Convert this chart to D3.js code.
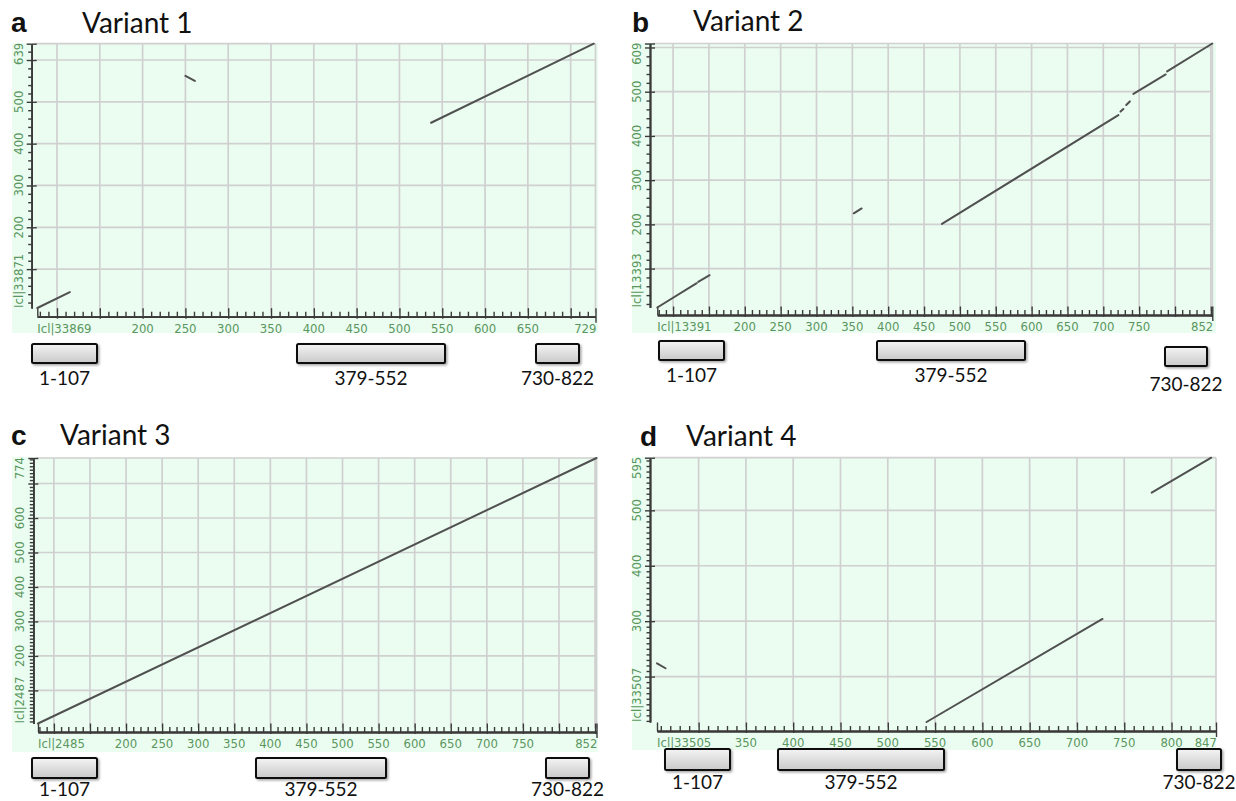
<!DOCTYPE html>
<html><head><meta charset="utf-8">
<script src="https://cdn.jsdelivr.net/npm/d3@7"></script>
<style>body{margin:0;background:#fff} svg{display:block}</style>
</head><body>
<svg id="c" width="1236" height="801"></svg>
<script>
// ---------------- data ----------------
const panelLetters = ["a", "b", "c", "d"];
const panelTitles = ["Variant 1", "Variant 2", "Variant 3", "Variant 4"];
const xSeqNames = ["Icl|33869", "Icl|13391", "Icl|2485", "Icl|33505"];
const ySeqNames = ["Icl|33871", "Icl|13393", "Icl|2487", "Icl|33507"];
const xMin = [77, 78, 78, 256];
const xMax = [729, 852, 852, 847];
const yMin = [7, 12, 4, 118];
const yMax = [639, 609, 774, 595];
const xTickLabels = [
  [200, 250, 300, 350, 400, 450, 500, 550, 600, 650],
  [200, 250, 300, 350, 400, 450, 500, 550, 600, 650, 700, 750],
  [200, 250, 300, 350, 400, 450, 500, 550, 600, 650, 700, 750],
  [350, 400, 450, 500, 550, 600, 650, 700, 750, 800]
];
const yTickLabels = [
  [200, 300, 400, 500],
  [200, 300, 400, 500],
  [200, 300, 400, 500, 600],
  [300, 400, 500]
];
const yMinorStep = [20, 20, 10, 10];
// alignment segments: [xStart, yStart, xEnd, yEnd]
const segmentsA = [[77, 7, 115, 45], [250, 562, 261, 550], [537, 450, 727, 639]];
const segmentsB = [[78, 12, 133, 67], [135, 70, 151, 85], [352, 225, 363, 236],
  [475, 201, 721, 447], [724, 455, 728, 461], [732, 470, 737, 478],
  [742, 495, 787, 539], [789, 546, 852, 609]];
const segmentsC = [[78, 4, 852, 774]];
const segmentsD = [[256, 224, 265, 215], [541, 118, 727, 304], [779, 532, 842, 595]];
const allSegments = [segmentsA, segmentsB, segmentsC, segmentsD];
// annotated regions
const regionStart = [1, 379, 730];
const regionEnd = [107, 552, 822];
const regionLabels = ["1-107", "379-552", "730-822"];

// ---------------- layout ----------------
const layout = [
  {bg: [12, 43, 598, 333], px: [37.3, 595.5], py: [308, 43.7], yAx: 31.7, xAx: 316.7,
   letter: [11, 32], title: [82, 33], boxR: [32, 97, 297, 445, 536, 579],
   boxY: [344, 344, 344], boxH: 19, labY: [385, 385, 385]},
  {bg: [632, 43, 1216, 333], px: [657.3, 1212.3], py: [307.5, 43.5], yAx: 650, xAx: 315,
   letter: [632, 32], title: [693, 31], boxR: [659, 724, 877, 1025, 1165, 1207],
   boxY: [341, 341, 347], boxH: 19, labY: [382, 382, 391]},
  {bg: [12, 457, 598, 752], px: [38, 596.5], py: [723.5, 458], yAx: 33.3, xAx: 732,
   letter: [11, 445], title: [60, 445], boxR: [32, 97, 256, 386, 546, 589],
   boxY: [758, 758, 758], boxH: 20, labY: [796, 796, 796]},
  {bg: [632, 457, 1216, 750], px: [657, 1216], py: [722, 457.7], yAx: 650, xAx: 731,
   letter: [640, 446], title: [686, 446], boxR: [665, 730, 778, 944, 1177, 1221],
   boxY: [749, 749, 749], boxH: 21, labY: [789, 789, 789]}
];

const svg = d3.select("#c");
const defs = svg.append("defs");
const grad = defs.append("linearGradient").attr("id", "boxg").attr("x1", 0).attr("y1", 0).attr("x2", 0).attr("y2", 1);
grad.append("stop").attr("offset", "0%").attr("stop-color", "#f4f4f4");
grad.append("stop").attr("offset", "100%").attr("stop-color", "#c9c9c9");
const sh = defs.append("filter").attr("id", "sh").attr("x", "-20%").attr("y", "-20%").attr("width", "150%").attr("height", "160%");
sh.append("feDropShadow").attr("dx", 1.5).attr("dy", 1.5).attr("stdDeviation", 1.2).attr("flood-color", "#000").attr("flood-opacity", 0.35);

const tickFont = "'Liberation Sans Narrow','DejaVu Sans Condensed','Liberation Sans',sans-serif";
const green = "#5a965e";
const gridCol = "#d0d0d0";
const axisCol = "#3a3a3a";

layout.forEach((L, i) => {
  const g = svg.append("g");
  const x = d3.scaleLinear().domain([xMin[i], xMax[i]]).range(L.px);
  const y = d3.scaleLinear().domain([yMin[i], yMax[i]]).range(L.py);

  // background
  g.append("rect").attr("x", L.bg[0]).attr("y", L.bg[1])
    .attr("width", L.bg[2] - L.bg[0]).attr("height", L.bg[3] - L.bg[1])
    .attr("fill", "#ebfdf1");

  // tick values
  const xMajor = d3.range(Math.ceil(xMin[i] / 50) * 50, xMax[i] + 1, 50);
  const xMinor = d3.range(Math.ceil(xMin[i] / 10) * 10, xMax[i] + 1, 10).filter(v => v % 50 !== 0);
  const yMajor = d3.range(100, yMax[i] + 1, 100).filter(v => v >= yMin[i]);
  const yMinor = d3.range(Math.ceil(yMin[i] / yMinorStep[i]) * yMinorStep[i], yMax[i] + 1, yMinorStep[i]).filter(v => v % 100 !== 0);

  // grid
  const vGrid = xMajor.concat([xMax[i]]);
  const hGrid = yMajor.concat([yMax[i]]);
  g.append("g").selectAll("line").data(vGrid).join("line")
    .attr("x1", d => x(d)).attr("x2", d => x(d))
    .attr("y1", y(yMax[i])).attr("y2", L.xAx - 4)
    .attr("stroke", gridCol).attr("stroke-width", 1.7);
  g.append("g").selectAll("line").data(hGrid).join("line")
    .attr("y1", d => y(d)).attr("y2", d => y(d))
    .attr("x1", L.yAx + 3).attr("x2", x(xMax[i]))
    .attr("stroke", gridCol).attr("stroke-width", 1.7);

  // x axis (ticks pointing up into plot)
  const xa = g.append("g").attr("transform", `translate(0,${L.xAx})`);
  xa.append("g").call(d3.axisBottom(x).tickValues(xMinor).tickSize(-5).tickSizeOuter(0).tickFormat(""));
  xa.append("g").call(d3.axisBottom(x).tickValues(xMajor).tickSize(-8.5).tickSizeOuter(0).tickFormat(""));
  xa.append("g").call(d3.axisBottom(x).tickValues(xMajor).tickSize(2).tickSizeOuter(0).tickFormat(""));
  xa.append("g").call(d3.axisBottom(x).tickValues([xMax[i]]).tickSize(6).tickSizeOuter(0).tickFormat(""));
  xa.append("g").call(d3.axisBottom(x).tickValues([xMax[i], xMin[i]]).tickSize(-8.5).tickSizeOuter(0).tickFormat(""));
  xa.selectAll(".domain").attr("stroke", axisCol).attr("stroke-width", 1.6);
  xa.selectAll(".tick line").attr("stroke", axisCol).attr("stroke-width", 1.4);

  // y axis
  const ya = g.append("g").attr("transform", `translate(${L.yAx},0)`);
  ya.append("g").call(d3.axisLeft(y).tickValues(yMinor).tickSize(3.5).tickSizeOuter(0).tickFormat(""));
  ya.append("g").call(d3.axisLeft(y).tickValues(yMajor.concat([yMax[i]])).tickSize(5).tickSizeOuter(0).tickFormat(""));
  ya.append("g").call(d3.axisRight(y).tickValues(yMajor.concat([yMax[i]])).tickSize(5).tickSizeOuter(0).tickFormat(""));
  ya.selectAll(".domain").attr("stroke", axisCol).attr("stroke-width", 1.6);
  ya.selectAll(".tick line").attr("stroke", axisCol).attr("stroke-width", 1.4);

  // x tick labels
  const xl = g.append("g").attr("font-family", tickFont).attr("font-size", 13).attr("fill", green);
  xl.selectAll("text.v").data(xTickLabels[i]).join("text").attr("class", "v")
    .attr("x", d => x(d)).attr("y", L.xAx + 16).attr("text-anchor", "middle").text(d => d);
  xl.append("text").attr("x", x(xMin[i])).attr("y", L.xAx + 16).attr("text-anchor", "start").text(xSeqNames[i]);
  xl.append("text").attr("x", x(xMax[i]) + 1).attr("y", L.xAx + 16).attr("text-anchor", "end").text(xMax[i]);

  // y tick labels (rotated)
  const yl = g.append("g").attr("font-family", tickFont).attr("font-size", 13).attr("fill", green);
  yl.selectAll("text.v").data(yTickLabels[i]).join("text").attr("class", "v")
    .attr("transform", d => `translate(${L.yAx - 9},${y(d)}) rotate(-90)`)
    .attr("text-anchor", "middle").text(d => d);
  yl.append("text").attr("transform", `translate(${L.yAx - 9},${y(yMin[i])}) rotate(-90)`)
    .attr("text-anchor", "start").text(ySeqNames[i]);
  yl.append("text").attr("transform", `translate(${L.yAx - 9},${y(yMax[i]) - 1}) rotate(-90)`)
    .attr("text-anchor", "end").text(yMax[i]);

  // alignment segments
  g.append("g").selectAll("line").data(allSegments[i]).join("line")
    .attr("x1", d => x(d[0])).attr("y1", d => y(d[1]))
    .attr("x2", d => x(d[2])).attr("y2", d => y(d[3]))
    .attr("stroke", "#505050").attr("stroke-width", 2).attr("stroke-linecap", "round");

  // annotation boxes: layout scale maps region bounds to their drawn positions
  const bx = d3.scaleLinear()
    .domain([regionStart[0], regionEnd[0], regionStart[1], regionEnd[1], regionStart[2], regionEnd[2]])
    .range(L.boxR);
  const bg = g.append("g");
  regionLabels.forEach((lab, k) => {
    const x0 = bx(regionStart[k]), x1 = bx(regionEnd[k]);
    bg.append("rect").attr("x", x0).attr("y", L.boxY[k]).attr("width", x1 - x0).attr("height", L.boxH)
      .attr("rx", 1.5).attr("fill", "url(#boxg)").attr("stroke", "#111").attr("stroke-width", 2)
      .attr("filter", "url(#sh)");
    bg.append("text").attr("x", (x0 + x1) / 2).attr("y", L.labY[k]).attr("text-anchor", "middle")
      .attr("font-family", "Lato, 'Open Sans', sans-serif").attr("font-size", 19).attr("fill", "#111")
      .text(lab);
  });

  // panel letter and title
  g.append("text").attr("x", L.letter[0]).attr("y", L.letter[1])
    .attr("font-family", "'Liberation Sans', Arial, sans-serif").attr("font-weight", "bold")
    .attr("font-size", 28).attr("fill", "#111").text(panelLetters[i]);
  g.append("text").attr("x", L.title[0]).attr("y", L.title[1])
    .attr("font-family", "Lato, 'Open Sans', sans-serif").attr("font-size", 28).attr("fill", "#111")
    .text(panelTitles[i]);
});
</script>
</body></html>
